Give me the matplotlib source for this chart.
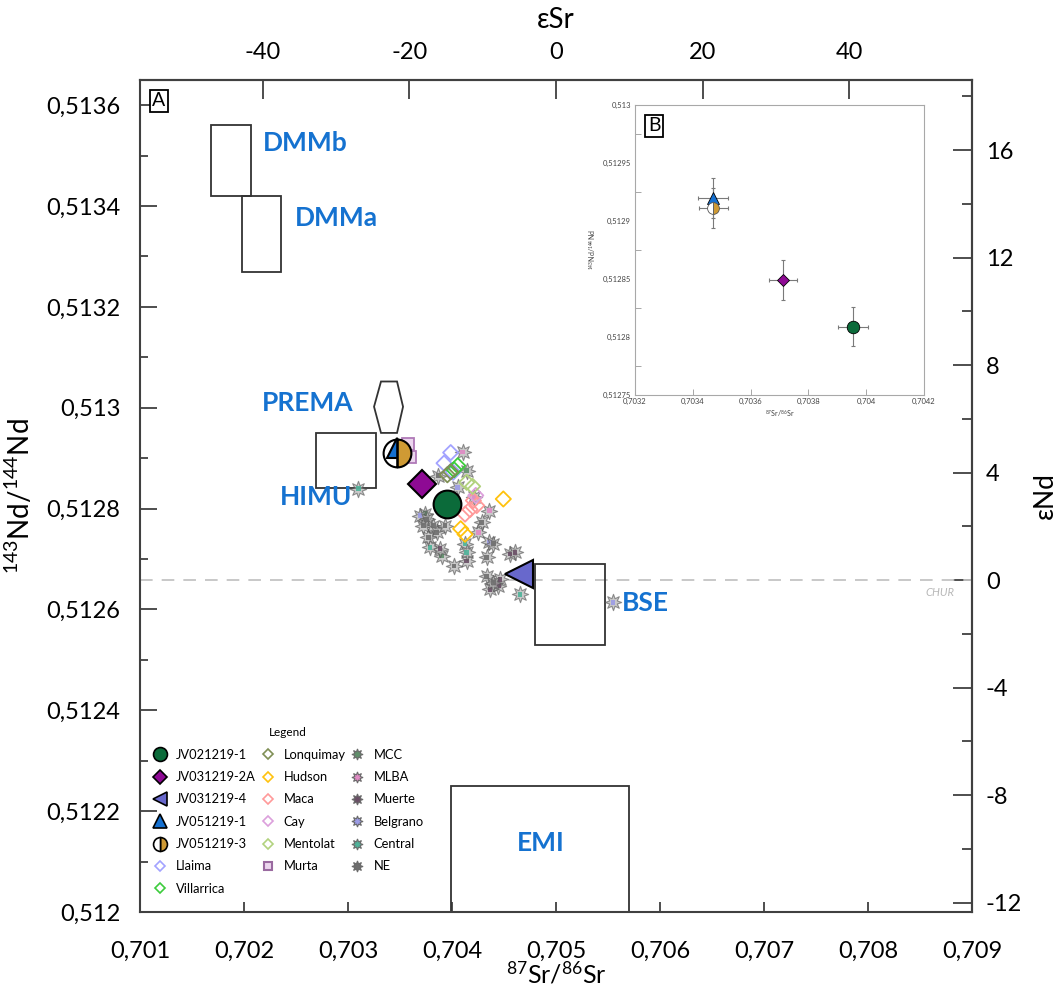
import matplotlib
matplotlib.use('Agg')
import matplotlib.pyplot as plt
from matplotlib.lines import Line2D
from matplotlib.patches import Rectangle, Polygon
from matplotlib.ticker import MultipleLocator, FuncFormatter

plt.rcParams['font.family'] = ['Lato', 'DejaVu Sans']
plt.rcParams['mathtext.fontset'] = 'custom'
plt.rcParams['mathtext.rm'] = 'Lato'
plt.rcParams['mathtext.it'] = 'Lato:italic'
plt.rcParams['mathtext.bf'] = 'Lato:bold'

# samples from this work
samples = ['JV021219-1', 'JV031219-2A', 'JV031219-4', 'JV051219-1', 'JV051219-3']
sample_sr = [0.703955, 0.703712, 0.704644, 0.703469, 0.703471]
sample_nd = [0.512809, 0.512849, 0.512670, 0.512920, 0.512911]
sample_sr_err = [0.000052, 0.000050, 0.000050, 0.000052, 0.000050]
sample_nd_err = [0.0000170, 0.0000172, 0.0000172, 0.0000172, 0.0000172]

# mantle reservoirs
box_names = ['DMMb', 'DMMa', 'HIMU', 'BSE', 'EMI']
box_sr_min = [0.70168, 0.70198, 0.70269, 0.70480, 0.70399]
box_sr_max = [0.70207, 0.70236, 0.70327, 0.70547, 0.70570]
box_nd_min = [0.51342, 0.51327, 0.51284, 0.51253, 0.51190]
box_nd_max = [0.51356, 0.51342, 0.51295, 0.51269, 0.51225]
prema_sr = [0.703317, 0.703471, 0.703529, 0.703471, 0.703317, 0.703250]
prema_nd = [0.513052, 0.513052, 0.513002, 0.512950, 0.512950, 0.513002]
ND_CHUR = 0.512658

# SVZ volcanoes (open diamonds)
llaima_sr = [0.703987, 0.703923, 0.704010]
llaima_nd = [0.512911, 0.512890, 0.512872]
villarrica_sr = [0.704055, 0.704019]
villarrica_nd = [0.512885, 0.512877]
lonquimay_sr = [0.703955, 0.703987]
lonquimay_nd = [0.512867, 0.512873]
hudson_sr = [0.704493, 0.704083, 0.704125]
hudson_nd = [0.512819, 0.512760, 0.512749]
maca_sr = [0.704205, 0.704237, 0.704173, 0.704125]
maca_nd = [0.512816, 0.512806, 0.512798, 0.512789]
cay_sr = [0.704228]
cay_nd = [0.512826]
mentolat_sr = [0.704141, 0.704198]
mentolat_nd = [0.512852, 0.512844]
murta_sr = [0.703596, 0.703577]
murta_nd = [0.512903, 0.512928]

# back-arc groups (stars)
mcc_sr = [0.704141, 0.703901, 0.703740]
mcc_nd = [0.512875, 0.512706, 0.512790]
mlba_sr = [0.704103, 0.704211, 0.704359, 0.704253]
mlba_nd = [0.512912, 0.512822, 0.512796, 0.512753]
muerte_sr = [0.704141, 0.704558, 0.704606, 0.703885, 0.704445, 0.704365, 0.704461]
muerte_nd = [0.512696, 0.512710, 0.512713, 0.512720, 0.512647, 0.512640, 0.512660]
belgrano_sr = [0.704055, 0.704359, 0.705548, 0.703692]
belgrano_nd = [0.512842, 0.512733, 0.512614, 0.512786]
central_sr = [0.704125, 0.704141, 0.703788, 0.704654, 0.703099]
central_nd = [0.512730, 0.512713, 0.512723, 0.512630, 0.512839]
ne_sr = [0.703868, 0.704285, 0.704397, 0.703756, 0.703820, 0.703853, 0.703772,
         0.703724, 0.703933, 0.704019, 0.704333, 0.704333, 0.704397]
ne_nd = [0.512865, 0.512773, 0.512730, 0.512779, 0.512766, 0.512753, 0.512743,
         0.512766, 0.512766, 0.512686, 0.512703, 0.512666, 0.512653]

BLUE = '#1572d0'
AX_GREY = '#404040'


def comma(v, pos=None):
    return f'{v:g}'.replace('.', ',')


def sr_to_esr(x):
    return (x / 0.705 - 1) * 1e4


def esr_to_sr(e):
    return (e / 1e4 + 1) * 0.705


def nd_to_end(y):
    return (y - ND_CHUR) / 0.0000533


def end_to_nd(e):
    return e * 0.0000533 + ND_CHUR


fig = plt.figure(figsize=(10.64, 9.97), dpi=100)
ax = fig.add_axes([0.1316, 0.0853, 0.782, 0.8345])
ax.set_xlim(0.701, 0.709)
ax.set_ylim(0.512, 0.51365)

# reservoir fields
for name, x0, x1, y0, y1 in zip(box_names, box_sr_min, box_sr_max, box_nd_min, box_nd_max):
    ax.add_patch(Rectangle((x0, y0), x1 - x0, y1 - y0, fill=False,
                           ec='#333333', lw=1.3, zorder=2))
ax.add_patch(Polygon(list(zip(prema_sr, prema_nd)), closed=True, fill=False,
                     ec='#333333', lw=1.3, zorder=2))

ax.axhline(ND_CHUR, color='#c4c4c4', lw=1.3, ls=(0, (7, 5)), zorder=1)
ax.text(0.70869, 0.512634, 'CHUR', style='italic', color='#b8b8b8',
        fontsize=8, ha='center', va='center')

lab = dict(color=BLUE, fontsize=19, fontweight='bold', va='center', ha='left')
ax.text(0.702183, 0.513525, 'DMMb', **lab)
ax.text(0.702490, 0.513376, 'DMMa', **lab)
ax.text(0.702173, 0.513010, 'PREMA', **lab)
ax.text(0.702346, 0.512822, 'HIMU', **lab)
ax.text(0.705635, 0.512612, 'BSE', **lab)
ax.text(0.704856, 0.512137, 'EMI', **dict(lab, ha='center'))

# back-arc stars: grey spikes with coloured centre
star_groups = [
    ('MCC', mcc_sr, mcc_nd, '#5f8f6a'),
    ('MLBA', mlba_sr, mlba_nd, '#e08ac4'),
    ('Muerte', muerte_sr, muerte_nd, '#6a4f66'),
    ('Belgrano', belgrano_sr, belgrano_nd, '#9c9ce6'),
    ('Central', central_sr, central_nd, '#4fb39a'),
    ('NE', ne_sr, ne_nd, '#6e6e6e'),
]
for name, xs, ys, col in star_groups:
    ax.scatter(xs, ys, marker=(8, 1, 0), s=140, facecolor='#a8a8a8',
               edgecolor='#505050', linewidth=0.8, alpha=0.6, zorder=3)
    ax.scatter(xs, ys, marker='s', s=12, facecolor=col, edgecolor='none',
               alpha=0.9, zorder=3)

# volcanic centres, open diamonds
diamond_groups = [
    ('Llaima', llaima_sr, llaima_nd, '#a3a3ff'),
    ('Villarrica', villarrica_sr, villarrica_nd, '#3ccc3c'),
    ('Lonquimay', lonquimay_sr, lonquimay_nd, '#7f8f55'),
    ('Hudson', hudson_sr, hudson_nd, '#ffc20e'),
    ('Maca', maca_sr, maca_nd, '#ff9a9a'),
    ('Cay', cay_sr, cay_nd, '#dca0dc'),
    ('Mentolat', mentolat_sr, mentolat_nd, '#b2d27e'),
]
for name, xs, ys, col in diamond_groups:
    ax.scatter(xs, ys, marker='D', s=60, facecolor='none', edgecolor=col,
               linewidth=1.3, zorder=4)
ax.plot(murta_sr, murta_nd, ls='none', marker='s', ms=8, mfc='#ecd6ee',
        mec='#b07ab8', mew=1.3, zorder=4)

# this work
sample_style = [
    dict(marker='o', ms=20, mfc='#0b6b3a', mec='black'),
    dict(marker='D', ms=14, mfc='#8e0a94', mec='black'),
    dict(marker='<', ms=20, mfc='#6868cc', mec='black'),
    dict(marker='^', ms=14, mfc='#1570d0', mec='black'),
    dict(marker='o', ms=20, fillstyle='right', mfc='#cf9a34', mfcalt='none', mec='black'),
]
for i in range(len(samples)):
    ax.plot(sample_sr[i], sample_nd[i], ls='none', mew=1.5, zorder=6, **sample_style[i])

# axes and ticks
ax.xaxis.set_major_locator(MultipleLocator(0.001))
ax.yaxis.set_major_locator(MultipleLocator(0.0002))
ax.yaxis.set_minor_locator(MultipleLocator(0.0001))
ax.xaxis.set_major_formatter(FuncFormatter(comma))
ax.yaxis.set_major_formatter(FuncFormatter(comma))
ax.tick_params(axis='x', which='major', direction='in', length=7, width=1.3,
               color=AX_GREY, labelsize=17, pad=21, top=False)
ax.tick_params(axis='y', which='major', direction='in', length=12, width=1.3,
               color=AX_GREY, labelsize=17, pad=14, right=False)
ax.tick_params(axis='y', which='minor', direction='in', length=6, width=1.3,
               color=AX_GREY, right=False)
for s in ax.spines.values():
    s.set_color(AX_GREY)
    s.set_linewidth(1.5)
ax.set_xlabel(r'$^{87}$Sr/$^{86}$Sr', fontsize=18)
ax.xaxis.set_label_coords(0.5, -0.059)
ax.set_ylabel(r'$^{143}$Nd/$^{144}$Nd', fontsize=20, labelpad=8)

top = ax.secondary_xaxis('top', functions=(sr_to_esr, esr_to_sr))
top.set_xticks([-40, -20, 0, 20, 40])
top.xaxis.set_major_formatter(FuncFormatter(comma))
top.tick_params(direction='in', length=14, width=1.3, color=AX_GREY,
                labelsize=17, pad=12)
top.spines['top'].set_color(AX_GREY)
top.spines['top'].set_linewidth(1.5)
top.set_xlabel('εSr', fontsize=20, labelpad=10)

right = ax.secondary_yaxis('right', functions=(nd_to_end, end_to_nd))
right.yaxis.set_major_locator(MultipleLocator(4))
right.yaxis.set_minor_locator(MultipleLocator(2))
right.yaxis.set_major_formatter(FuncFormatter(comma))
right.tick_params(which='major', direction='in', length=14, width=1.3,
                  color=AX_GREY, labelsize=17, pad=10)
right.tick_params(which='minor', direction='in', length=7, width=1.3, color=AX_GREY)
right.spines['right'].set_color(AX_GREY)
right.spines['right'].set_linewidth(1.5)
right.set_ylabel('εNd', fontsize=19, labelpad=8)

# no offset texts on any of the axes
for a in (ax, top, right):
    a.xaxis.offsetText.set_visible(False)
    a.yaxis.offsetText.set_visible(False)

ax.text(0.0228, 0.975, 'A', transform=ax.transAxes, fontsize=14, ha='center',
        va='center', bbox=dict(boxstyle='square,pad=0.12', fc='white', ec='black', lw=1.3),
        zorder=7)

# legend
handles = [
    Line2D([], [], ls='none', marker='o', ms=10, mfc='#0b6b3a', mec='black', mew=1.2),
    Line2D([], [], ls='none', marker='D', ms=7.5, mfc='#8e0a94', mec='black', mew=1.2),
    Line2D([], [], ls='none', marker='<', ms=10, mfc='#6868cc', mec='black', mew=1.2),
    Line2D([], [], ls='none', marker='^', ms=10, mfc='#1570d0', mec='black', mew=1.2),
    Line2D([], [], ls='none', marker='o', ms=10, fillstyle='right', mfc='#cf9a34',
           mfcalt='white', mec='black', mew=1.2),
]
labels = list(samples)
for name, xs, ys, col in diamond_groups:
    handles.append(Line2D([], [], ls='none', marker='D', ms=5, mfc='none', mec=col, mew=1.2))
    labels.append(name)
handles.append(Line2D([], [], ls='none', marker='s', ms=6, mfc='#ecd6ee', mec='#9a6aa0', mew=1.5))
labels.append('Murta')
for name, xs, ys, col in star_groups:
    handles.append(Line2D([], [], ls='none', marker=(8, 1, 0), ms=8, mfc=col,
                          mec='#6a6a6a', mew=0.8))
    labels.append(name)
leg = ax.legend(handles, labels, ncol=3, loc='upper left', bbox_to_anchor=(0.0084, 0.228),
                frameon=False, fontsize=9.3, title='Legend', title_fontsize=8.5,
                handletextpad=0.65, columnspacing=0.3, labelspacing=0.8,
                handlelength=1.2, borderaxespad=0)

# inset: zoom on the samples with errors
axin = fig.add_axes([0.5968, 0.6038, 0.2716, 0.2909])
axin.set_xlim(0.7032, 0.7042)
axin.set_ylim(0.51275, 0.513)
axin.errorbar(sample_sr, sample_nd, xerr=sample_sr_err, yerr=sample_nd_err, fmt='none',
              ecolor='#7a7a7a', elinewidth=0.8, capsize=1.5, capthick=0.8, zorder=2)
inset_ms = [9, 6, 8, 8, 8.5]
for i in range(len(samples)):
    st = dict(sample_style[i])
    st['ms'] = inset_ms[i]
    if 'mfcalt' in st:
        st['mfcalt'] = 'white'
        st['mec'] = '#555555'
    axin.plot(sample_sr[i], sample_nd[i], ls='none', mew=0.6, zorder=3, **st)
axin.set_xticks([0.7032, 0.7034, 0.7036, 0.7038, 0.704, 0.7042])
axin.set_yticks([0.51275, 0.5128, 0.51285, 0.5129, 0.51295, 0.513])
axin.yaxis.set_minor_locator(MultipleLocator(0.000025))
axin.xaxis.set_major_formatter(FuncFormatter(comma))
axin.yaxis.set_major_formatter(FuncFormatter(comma))
axin.tick_params(axis='x', direction='in', length=4, width=0.6, color='#999999',
                 labelsize=5.5, labelcolor='#444444', pad=2)
axin.tick_params(axis='y', which='major', length=0, labelsize=5.5,
                 labelcolor='#444444', pad=3)
axin.tick_params(axis='y', which='minor', direction='in', length=4, width=0.6,
                 color='#999999')
for s in axin.spines.values():
    s.set_color('#a8a8a8')
    s.set_linewidth(0.8)
axin.set_xlabel(r'$^{87}$Sr/$^{86}$Sr', fontsize=5, labelpad=2, color='#444444')
axin.set_ylabel(r'$^{143}$Nd/$^{144}$Nd', fontsize=5, labelpad=3, color='#444444')
axin.text(0.066, 0.928, 'B', transform=axin.transAxes, fontsize=14, ha='center',
          va='center', bbox=dict(boxstyle='square,pad=0.12', fc='white', ec='black', lw=1.3))

fig.savefig('out.png', dpi=100)
